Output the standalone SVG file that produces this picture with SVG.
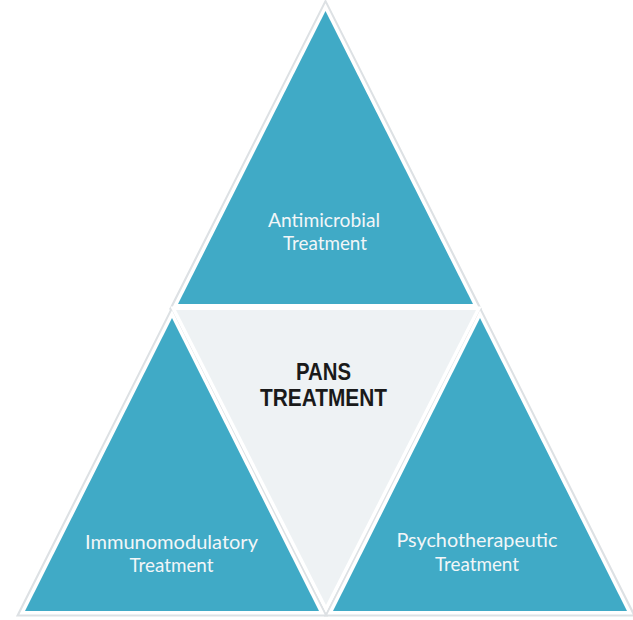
<svg xmlns="http://www.w3.org/2000/svg" width="633" height="620" viewBox="0 0 633 620">
<style>
.shadow{fill:none;stroke:#dde1e4;stroke-width:10;stroke-linejoin:miter}
.tri{fill:#40aac6;stroke:#ffffff;stroke-width:7;stroke-linejoin:miter;paint-order:stroke}
.center{fill:#eef2f4;stroke:#ffffff;stroke-width:7;stroke-linejoin:miter;paint-order:stroke}
.lbl{font-family:Lato,"Open Sans","Liberation Sans",sans-serif;font-size:19px;fill:#f2f6f8;text-anchor:middle}
.title{font-family:"Liberation Sans",Arial,sans-serif;font-size:23px;font-weight:bold;fill:#1a1a1a;text-anchor:middle}
</style>
<rect width="633" height="620" fill="#ffffff"/>
<g id="shadows">
<polygon class="shadow" points="325.5,10 177,304.5 474,304.5"/>
<polygon class="shadow" points="172,317 24,611.5 320,611.5"/>
<polygon class="shadow" points="480,317 332,611.5 628,611.5"/>
</g>
<g id="node-center">
<polygon class="center" points="176,310 476,310 326,605"/>
<text class="title" x="323.5" y="380" textLength="55" lengthAdjust="spacingAndGlyphs">PANS</text>
<text class="title" x="323.5" y="406" textLength="127" lengthAdjust="spacingAndGlyphs">TREATMENT</text>
</g>
<g id="node-antimicrobial">
<polygon class="tri" points="325.5,11 178,304 473,304"/>
<text class="lbl" x="324" y="227" textLength="112" lengthAdjust="spacingAndGlyphs">Antimicrobial</text>
<text class="lbl" x="325" y="250" textLength="84" lengthAdjust="spacingAndGlyphs">Treatment</text>
</g>
<g id="node-immunomodulatory">
<polygon class="tri" points="172,318 25,611 319,611"/>
<text class="lbl" x="171.5" y="549" textLength="173" lengthAdjust="spacingAndGlyphs">Immunomodulatory</text>
<text class="lbl" x="171.5" y="572" textLength="84" lengthAdjust="spacingAndGlyphs">Treatment</text>
</g>
<g id="node-psychotherapeutic">
<polygon class="tri" points="480,318 333,611 627,611"/>
<text class="lbl" x="477" y="547" textLength="161" lengthAdjust="spacingAndGlyphs">Psychotherapeutic</text>
<text class="lbl" x="477" y="571" textLength="84" lengthAdjust="spacingAndGlyphs">Treatment</text>
</g>
<g id="connectors"></g>
</svg>
